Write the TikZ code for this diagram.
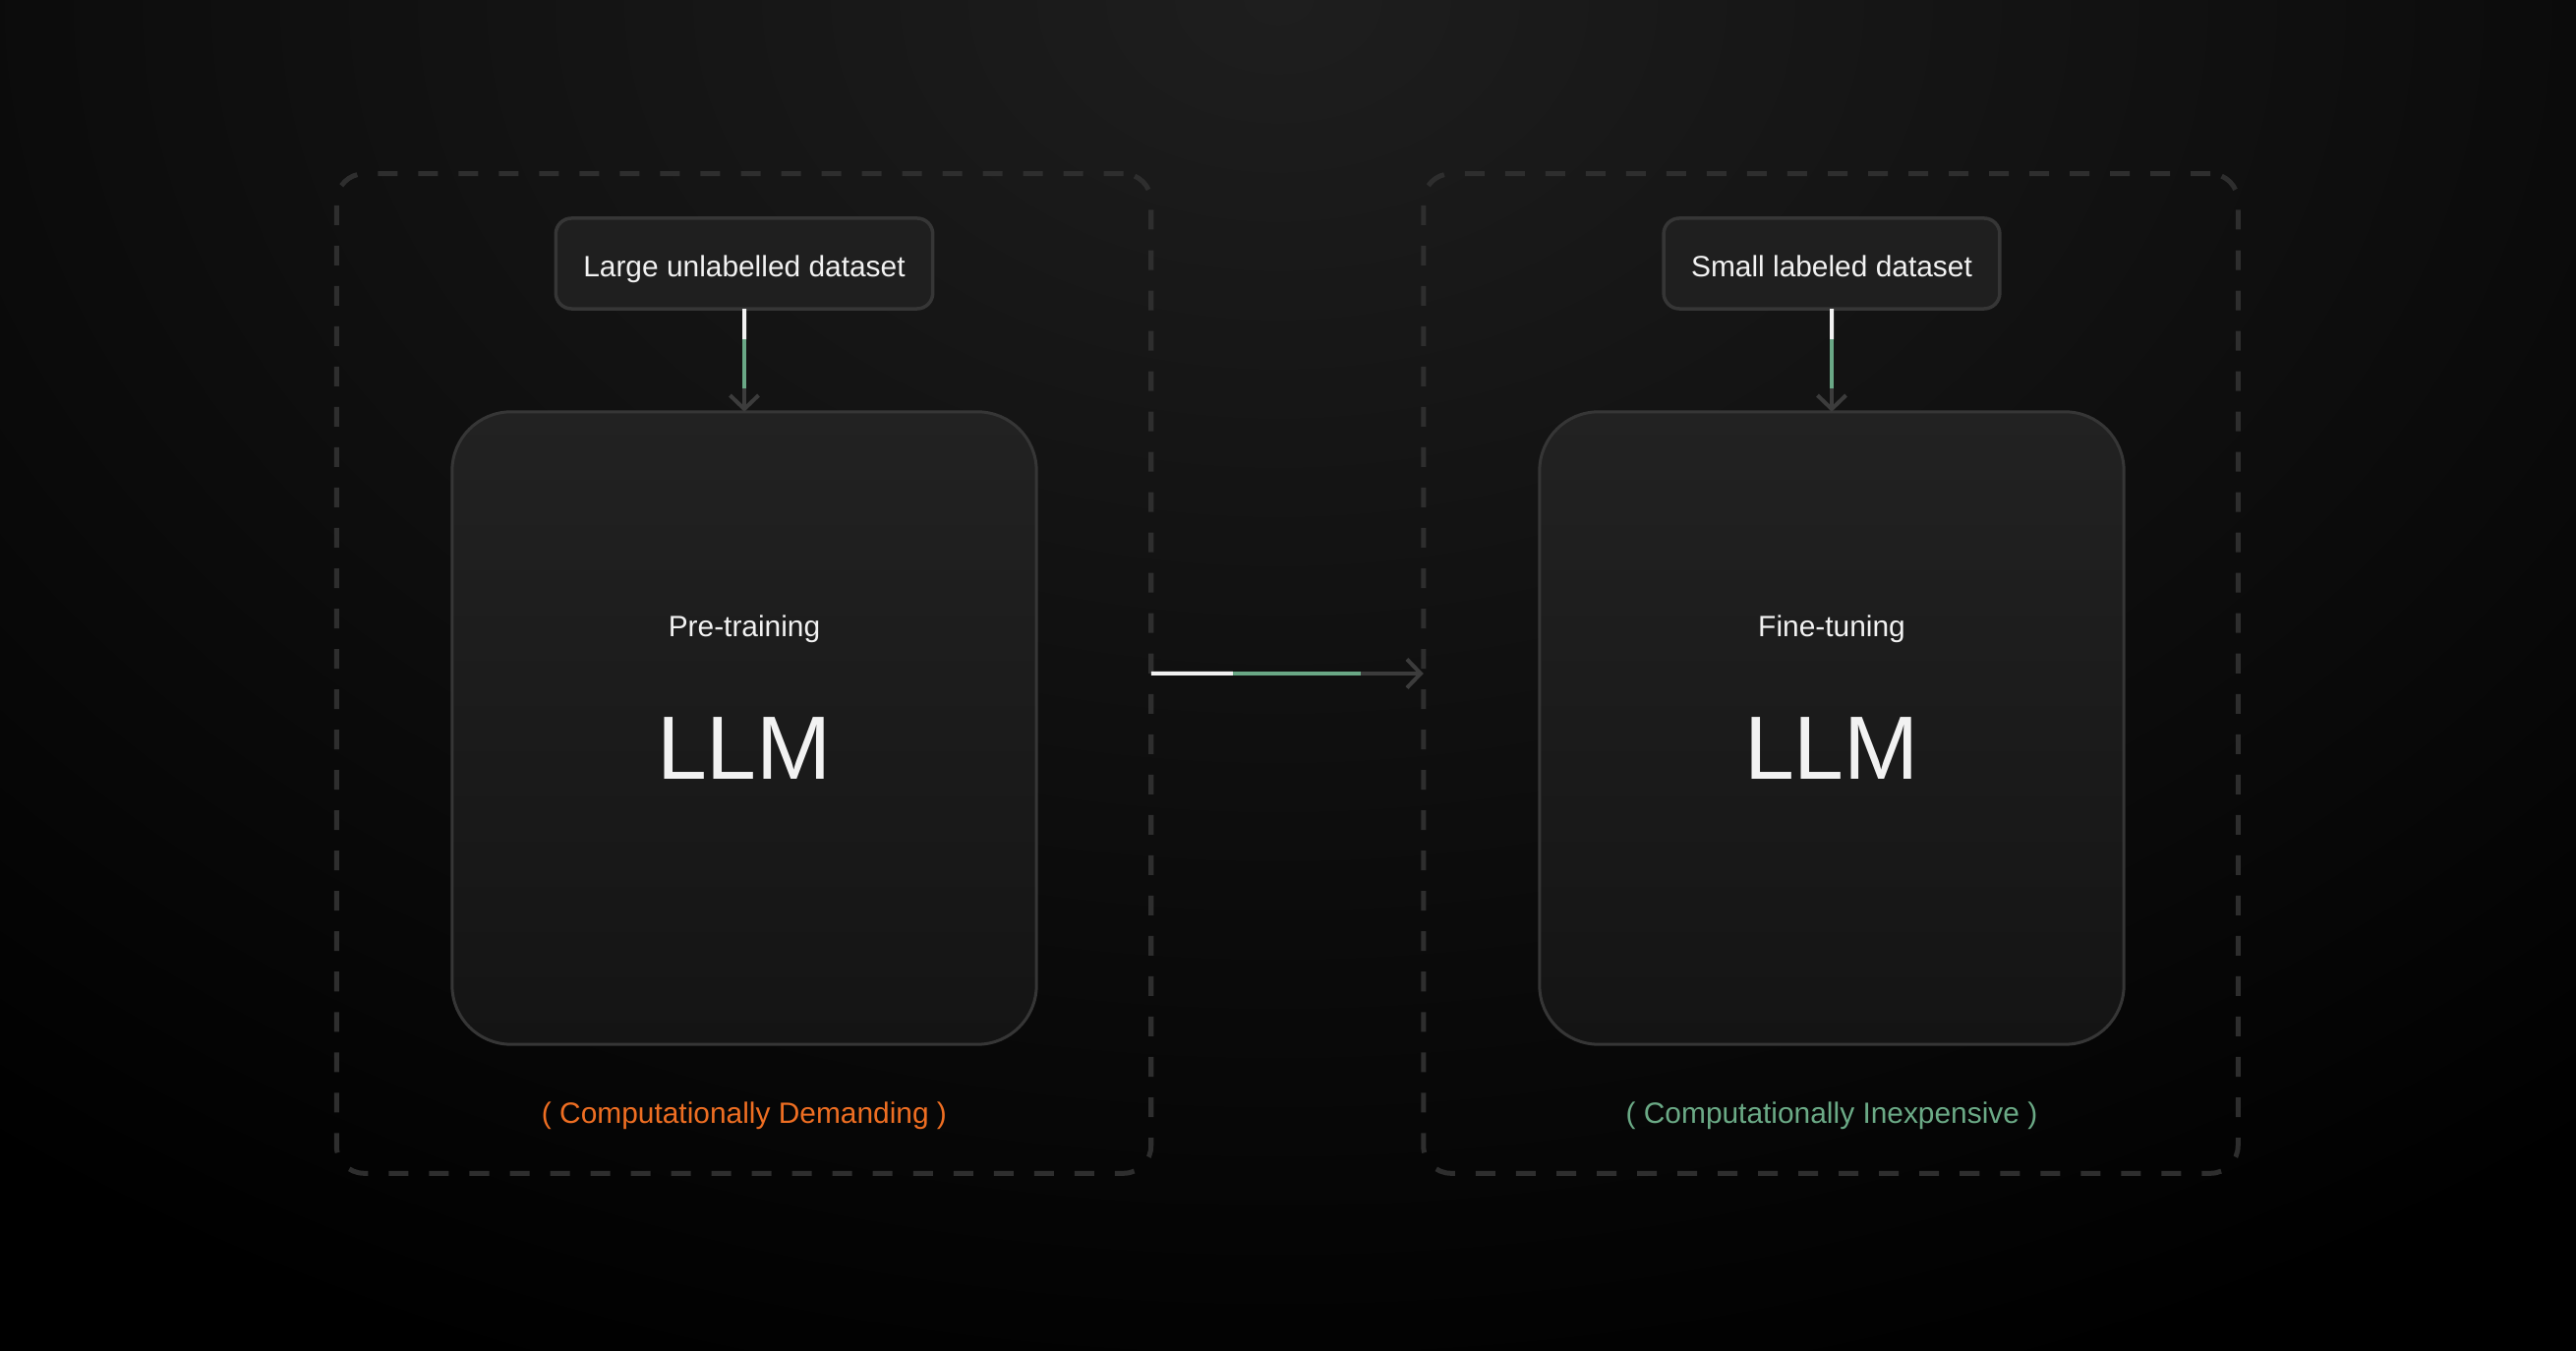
\documentclass[tikz,border=0pt]{standalone}
\usepackage{fontspec}
\setmainfont{Liberation Sans}
\usetikzlibrary{arrows.meta, calc}
\definecolor{bgglow}{HTML}{1E1E1E}
\definecolor{framegray}{HTML}{2E2E2E}
\definecolor{boxedge}{HTML}{363636}
\definecolor{boxtop}{HTML}{222222}
\definecolor{boxbottom}{HTML}{141414}
\definecolor{datafill}{HTML}{1F1F1F}
\definecolor{textwhite}{HTML}{F2F2F2}
\definecolor{flowgreen}{HTML}{6AA886}
\definecolor{flowgray}{HTML}{3C3C3C}
\definecolor{costorange}{HTML}{EE6E22}
\definecolor{costgreen}{HTML}{6BAA86}
\def\xPre{757}
\def\xFin{1863}
\newcommand{\smalltxt}{\fontsize{8.5pt}{10pt}\selectfont}
\newcommand{\bigtxt}{\fontsize{26pt}{28pt}\selectfont}
\tikzset{
  stageframe/.style={draw=framegray, line width=0.05cm, dash pattern=on 0.2cm off 0.21cm,
    rounded corners=0.28cm, minimum width=8.28cm, minimum height=10.16cm, inner sep=0pt, outer sep=0pt},
  databox/.style={draw=boxedge, line width=0.035cm, fill=datafill, rounded corners=0.16cm,
    minimum height=0.92cm, inner xsep=0.28cm, text height=1.5ex, text depth=0pt,
    text=textwhite, font=\smalltxt, outer sep=0pt},
  modelbox/.style={draw=boxedge, line width=0.03cm, top color=boxtop, bottom color=boxbottom,
    rounded corners=0.6cm, minimum width=5.94cm, minimum height=6.43cm, outer sep=0pt},
  steplbl/.style={text=textwhite, font=\smalltxt, anchor=base, inner sep=0pt},
  llmlbl/.style={text=textwhite, font=\bigtxt, anchor=base, inner sep=0pt},
  costlbl/.style={font=\smalltxt, anchor=base, inner sep=0pt},
  flow/.style={draw=flowgray, line width=0.04cm, -{Straight Barb[length=1.4mm, width=2.9mm]}},
  flowpart/.style={line width=0.04cm},
}
\newcommand{\flowconn}[2]{%
  \draw[flow] (#1) -- (#2);
  \draw[flowpart, textwhite] (#1) -- ($(#1)!0.3!(#2)$);
  \draw[flowpart, flowgreen] ($(#1)!0.3!(#2)$) -- ($(#1)!0.77!(#2)$);}

\begin{document}
\begin{tikzpicture}[x=0.01cm, y=-0.01cm]
  \useasboundingbox (0,0) rectangle (2620,1374);
  \fill[black] (0,0) rectangle (2620,1374);
  \begin{scope}
    \clip (0,0) rectangle (2620,1374);
    \shade[inner color=bgglow, outer color=black] (1300,0) ellipse [x radius=21cm, y radius=15cm];
  \end{scope}

  % dashed stage frames
  \node[stageframe] (preframe) at (756.5,685) {};
  \node[stageframe] (fineframe) at (1862,685) {};

  % datasets and models
  \node[databox] (predata) at (\xPre,268) {Large unlabelled dataset};
  \node[databox] (finedata) at (\xFin,268) {Small labeled dataset};
  \node[modelbox] (premodel) at (\xPre,740.5) {};
  \node[modelbox] (finemodel) at (\xFin,740.5) {};

  \node[steplbl] (prestep) at (\xPre,648) {Pre-training};
  \node[steplbl] (finestep) at (\xFin,648) {Fine-tuning};
  \node[llmlbl] (prellm) at (\xPre,793) {LLM};
  \node[llmlbl] (finellm) at (\xFin,793) {LLM};

  \node[costlbl, text=costorange] (precost) at (\xPre,1143) {( Computationally Demanding )};
  \node[costlbl, text=costgreen] (finecost) at (\xFin,1143) {( Computationally Inexpensive )};

  % connectors
  \flowconn{predata.south}{premodel.north}
  \flowconn{finedata.south}{finemodel.north}
  \flowconn{preframe.east}{fineframe.west}
\end{tikzpicture}
\end{document}
